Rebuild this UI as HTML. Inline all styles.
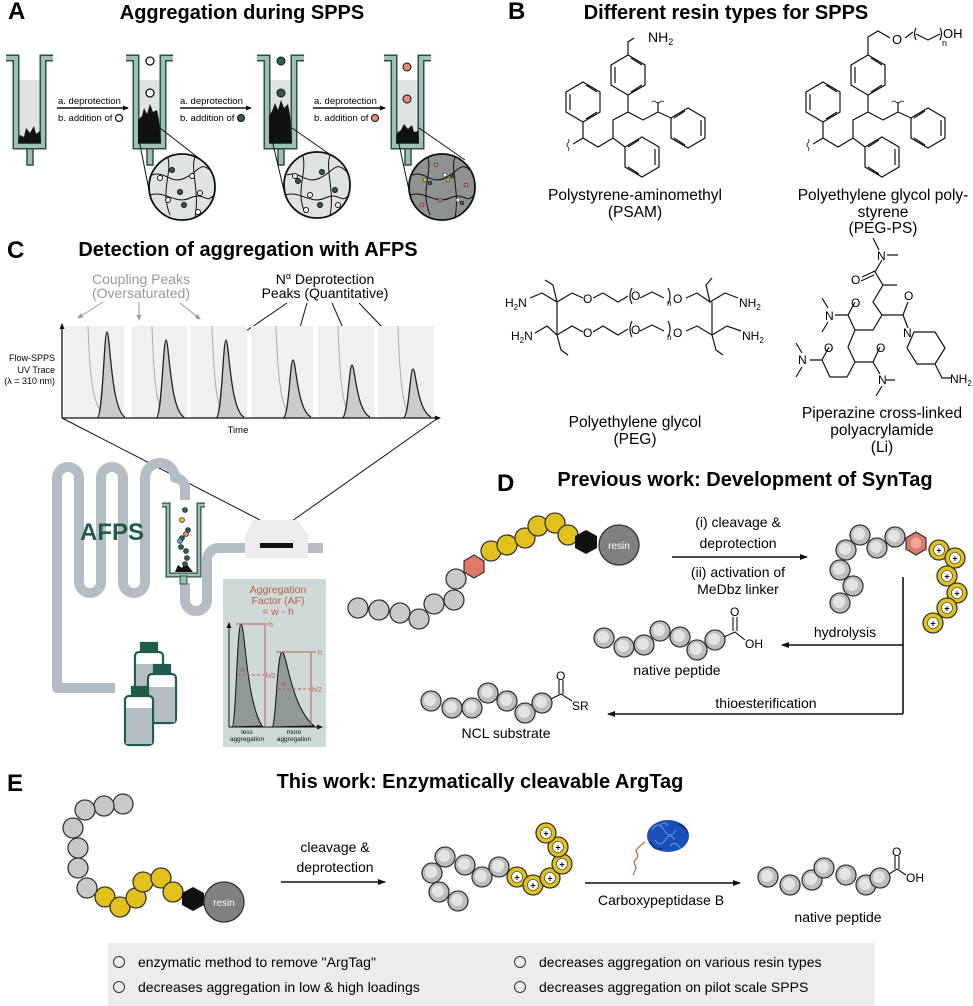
<!DOCTYPE html>
<html><head><meta charset="utf-8"><style>
html,body{margin:0;padding:0;background:#fff}
svg{display:block}
text{font-family:"Liberation Sans",Arial,sans-serif}
.t{font-size:20px;font-weight:bold}
.L{font-size:24px;font-weight:bold}
.s{font-size:14px}
.m{font-size:15.5px}
.tw{stroke:#2e4f48;stroke-width:7;fill:none}
.ti{stroke:#9cc0b6;stroke-width:4;fill:none}
.g{fill:#c9c9c9;stroke:#333;stroke-width:1.3}
.y{fill:#e2c11d;stroke:#333;stroke-width:1.3}
.b{fill:none;stroke:#111;stroke-width:1.4}
.tube{fill:none;stroke:#b4bcc4;stroke-width:10;stroke-linejoin:round}
</style></head><body>
<svg width="973" height="1006" viewBox="0 0 973 1006" xmlns="http://www.w3.org/2000/svg">
<defs>
<marker id="ah" markerWidth="8" markerHeight="8" refX="7" refY="4" orient="auto" markerUnits="userSpaceOnUse"><path d="M0,1 L8,4 L0,7 z" fill="#111"/></marker>
<marker id="ahs" markerWidth="6" markerHeight="6" refX="5" refY="3" orient="auto" markerUnits="userSpaceOnUse"><path d="M0,0.5 L6,3 L0,5.5 z" fill="#111"/></marker>
<marker id="ahg" markerWidth="6" markerHeight="6" refX="5" refY="3" orient="auto" markerUnits="userSpaceOnUse"><path d="M0,0.5 L6,3 L0,5.5 z" fill="#999"/></marker>
<g id="tube">
<rect x="12" y="80" width="23" height="64" fill="#dfe3e3"/>
<rect x="21" y="147" width="6" height="18" fill="#9cc0b6" stroke="#2e4f48" stroke-width="1.5"/>
<path class="tw" d="M0,58 H10 V146 H37 V58 H47"/>
<path class="ti" d="M0,58 H10 V146 H37 V58 H47"/>
</g>
<g id="pg"><circle r="10" fill="#bdbdbd" stroke="#333" stroke-width="1.3"/><circle cx="-1" cy="-1" r="6" fill="#e4e4e4"/></g>
<g id="yp"><circle r="10" fill="#e2c11d" stroke="#333" stroke-width="1.3"/><circle r="5.5" fill="#fff" stroke="#333" stroke-width="0.6"/><text y="3.5" text-anchor="middle" font-size="9" font-weight="bold">+</text></g>
</defs>

<!-- ============ PANEL A ============ -->
<text x="8" y="19" class="L">A</text>
<text x="242" y="19" class="t" text-anchor="middle">Aggregation during SPPS</text>
<use href="#tube" x="6" y="0"/>
<use href="#tube" x="126" y="0"/>
<use href="#tube" x="257" y="0"/>
<use href="#tube" x="384" y="0"/>
<path d="M18,143 L20,135 L24,137 L26,128 L30,133 L34,126 L36,134 L40,131 L41,143 z" fill="#111"/>
<path d="M138,143 L138,120 L142,116 L144,108 L147,114 L150,104 L153,112 L157,110 L159,120 L161,143 z" fill="#111"/>
<path d="M269,143 L269,116 L272,111 L275,103 L278,110 L281,100 L284,108 L288,104 L290,115 L292,143 z" fill="#111"/>
<path d="M396,143 L397,133 L401,130 L404,124 L408,129 L412,125 L414,132 L418,131 L419,143 z" fill="#111"/>
<circle cx="150" cy="61" r="4" fill="#fff" stroke="#111" stroke-width="1.3"/>
<circle cx="150" cy="93" r="4" fill="#fff" stroke="#111" stroke-width="1.3"/>
<circle cx="281" cy="61" r="4" fill="#2e5e52" stroke="#111" stroke-width="1"/>
<circle cx="281" cy="93" r="4" fill="#2e5e52" stroke="#111" stroke-width="1"/>
<circle cx="407" cy="67" r="4" fill="#e98a78" stroke="#111" stroke-width="1"/>
<circle cx="407" cy="99" r="4" fill="#e98a78" stroke="#111" stroke-width="1"/>
<g class="s" font-size="9.5">
<text x="58" y="104" font-size="9.5">a. deprotection</text>
<text x="58" y="121" font-size="9.5">b. addition of</text>
<circle cx="119" cy="118" r="3.5" fill="#fff" stroke="#111" stroke-width="1.3"/>
<line x1="57" y1="108" x2="128" y2="108" stroke="#111" stroke-width="1.5" marker-end="url(#ahs)"/>
<text x="180" y="104" font-size="9.5">a. deprotection</text>
<text x="180" y="121" font-size="9.5">b. addition of</text>
<circle cx="241" cy="118" r="3.5" fill="#2e5e52" stroke="#111"/>
<line x1="180" y1="108" x2="251" y2="108" stroke="#111" stroke-width="1.5" marker-end="url(#ahs)"/>
<text x="314" y="104" font-size="9.5">a. deprotection</text>
<text x="314" y="121" font-size="9.5">b. addition of</text>
<circle cx="375" cy="118" r="3.5" fill="#e98a78" stroke="#111"/>
<line x1="313" y1="108" x2="385" y2="108" stroke="#111" stroke-width="1.5" marker-end="url(#ahs)"/>
</g>
<g stroke="#111" stroke-width="1">
<line x1="139" y1="140" x2="150" y2="195"/><line x1="160" y1="128" x2="205" y2="163"/>
<circle cx="182" cy="187" r="33" fill="#dfe3e3" stroke-width="1.8"/>
<path d="M152,175 C165,170 170,185 185,178 S200,160 212,172 M150,195 C165,190 175,205 190,198 S205,205 214,195 M168,158 C172,175 160,190 170,215 M195,157 C190,170 200,190 195,218" fill="none"/>
<circle cx="160" cy="178" r="2.5" fill="#fff"/><circle cx="172" cy="170" r="2.5" fill="#2e5e52"/><circle cx="192" cy="176" r="2.5" fill="#fff"/><circle cx="180" cy="192" r="2.5" fill="#2e5e52"/><circle cx="200" cy="193" r="2.5" fill="#fff"/><circle cx="184" cy="205" r="2.5" fill="#2e5e52"/><circle cx="168" cy="200" r="2.5" fill="#fff"/><circle cx="198" cy="212" r="2.5" fill="#fff"/>
<line x1="272" y1="140" x2="285" y2="195"/><line x1="292" y1="128" x2="338" y2="160"/>
<circle cx="317" cy="185" r="33" fill="#dfe3e3" stroke-width="1.8"/>
<path d="M287,175 C300,170 305,185 320,178 S335,160 347,172 M285,195 C300,190 310,205 325,198 S340,205 349,195 M303,156 C307,175 295,190 305,213 M330,155 C325,170 335,190 330,216" fill="none"/>
<circle cx="295" cy="176" r="2.5" fill="#fff"/><circle cx="298" cy="181" r="2.5" fill="#2e5e52"/><circle cx="322" cy="172" r="2.5" fill="#2e5e52"/><circle cx="310" cy="195" r="2.5" fill="#fff"/><circle cx="335" cy="190" r="2.5" fill="#2e5e52"/><circle cx="320" cy="205" r="2.5" fill="#2e5e52"/><circle cx="306" cy="210" r="2.5" fill="#fff"/><circle cx="338" cy="205" r="2.5" fill="#fff"/>
<line x1="397" y1="135" x2="410" y2="195"/><line x1="419" y1="128" x2="465" y2="160"/>
<circle cx="442" cy="187" r="33" fill="#8e9292" stroke-width="1.8"/>
<path d="M412,175 C425,170 430,185 445,178 S460,160 472,172 M410,195 C425,190 435,205 450,198 S465,205 474,195 M428,158 C432,175 420,190 430,215 M455,157 C450,170 460,190 455,218" fill="none"/>
<g stroke-width="0.5"><circle cx="425" cy="180" r="2" fill="#e2c11d"/><circle cx="430" cy="183" r="2" fill="#2e5e52"/><circle cx="445" cy="175" r="2" fill="#fff"/><circle cx="448" cy="180" r="2" fill="#e2c11d"/><circle cx="452" cy="176" r="2" fill="#2e5e52"/><circle cx="440" cy="200" r="2" fill="#e98a78"/><circle cx="458" cy="200" r="2" fill="#fff"/><circle cx="462" cy="203" r="2" fill="#2e5e52"/><circle cx="422" cy="205" r="2" fill="#e98a78"/><circle cx="466" cy="185" r="2" fill="#e98a78"/><circle cx="436" cy="165" r="2" fill="#e98a78"/></g>
</g>

<!-- ============ PANEL B ============ -->
<text x="508" y="19" class="L">B</text>
<text x="726" y="19" class="t" text-anchor="middle">Different resin types for SPPS</text>
<g id="ps" transform="translate(480,20)" stroke="#111" stroke-width="1.2" fill="none">
<polygon points="148,35 165,45 165,65 148,75 131,65 131,45"/>
<path d="M135,47 V63 M151,38 L162,45 M151,72 L162,65"/>
<polygon points="103,62 120,72 120,92 103,102 86,92 86,72"/>
<path d="M90,74 V90 M106,65 L117,72 M106,99 L117,92"/>
<polygon points="162,117 179,127 179,147 162,157 145,147 145,127"/>
<path d="M175,129 V145 M159,120 L148,127 M159,154 L148,147"/>
<polygon points="208,88 225,98 225,118 208,128 191,118 191,98"/>
<path d="M221,100 V116 M205,91 L194,98 M205,125 L194,118"/>
<path d="M148,75 V92 L133,100 V118 L118,127 L103,118 V102 M133,118 L145,127 M148,92 L163,100 L178,92 L191,98 M178,92 V82"/>
<path d="M103,118 L93,124" />
<path d="M172,82 q2,-2 4,0 t4,0 t4,0" stroke-width="0.8"/>
<path d="M88,119 q2,2 0,4 t0,4 t0,4" stroke-width="0.8"/>
</g>
<g transform="translate(480,20)" stroke="#111" stroke-width="1.2" fill="none">
<path d="M148,35 V22 L154,18"/>
</g>
<text x="648" y="42" class="s" font-size="13">NH<tspan font-size="9" dy="3">2</tspan></text>
<use href="#ps" x="240" y="0"/>
<g stroke="#111" stroke-width="1.2" fill="none">
<path d="M868,55 V37 L878,31 L890,38"/>
<path d="M905,38 L913,32 M916,28 q-3,5 0,12 M916,34 L928,40 L940,34 M940,28 q3,5 0,12"/>
</g>
<text x="892" y="44" font-size="13">O</text>
<text x="942" y="46" font-size="9">n</text>
<text x="943" y="38" font-size="13">OH</text>
<text x="635" y="200" class="m" text-anchor="middle">Polystyrene-aminomethyl</text>
<text x="635" y="217" class="m" text-anchor="middle">(PSAM)</text>
<text x="883" y="200" class="m" text-anchor="middle">Polyethylene glycol poly-</text>
<text x="883" y="217" class="m" text-anchor="middle">styrene</text>
<text x="883" y="233" class="m" text-anchor="middle">(PEG-PS)</text>
<g stroke="#111" stroke-width="1.2" fill="none">
<path d="M530,298 L542,293 L557,302 L572,293 L583,298 M593,298 L603,293 L618,302 L628,296 M632,288 q-4,8 0,16 M640,298 L652,292 L664,298 M668,288 q4,8 0,16 M686,298 L697,293 L710,302 L725,293 L738,298"/>
<path d="M535,333 L547,326 L557,335 L572,326 L583,332 M593,332 L603,326 L618,335 L628,329 M632,321 q-4,8 0,16 M640,331 L652,325 L664,331 M668,321 q4,8 0,16 M686,331 L697,326 L712,335 L727,326 L741,331"/>
<path d="M557,302 V335 M557,302 L553,285 L545,280 M712,335 V302 M710,302 L706,285 L712,278 M557,335 L561,350 L568,355 M712,335 L716,350 L723,355"/>
</g>
<g font-size="12">
<text x="505" y="307">H<tspan font-size="8" dy="3">2</tspan><tspan dy="-3">N</tspan></text>
<text x="511" y="340">H<tspan font-size="8" dy="3">2</tspan><tspan dy="-3">N</tspan></text>
<text x="583" y="303">O</text><text x="631" y="300">O</text><text x="673" y="303">O</text><text x="667" y="306" font-size="8">n</text>
<text x="583" y="337">O</text><text x="631" y="334">O</text><text x="673" y="337">O</text><text x="667" y="340" font-size="8">n</text>
<text x="739" y="307">NH<tspan font-size="8" dy="3">2</tspan></text>
<text x="742" y="340">NH<tspan font-size="8" dy="3">2</tspan></text>
</g>
<text x="635" y="427" class="m" text-anchor="middle">Polyethylene glycol</text>
<text x="635" y="444" class="m" text-anchor="middle">(PEG)</text>
<g stroke="#111" stroke-width="1.2" fill="none">
<path d="M873,238 L879,250 M887,255 L898,255 M882,260 L875,272 L883,285 L873,302 L882,315 L903,315 L908,302 M862,277 L875,271 M861,281 L874,275 M883,285 L897,285"/>
<path d="M882,315 L873,330 L855,330 L848,315 L855,302 M848,315 L835,315 M828,322 L822,332 M828,308 L822,298 M903,315 L908,328"/>
<path d="M914,332 L935,332 L945,348 L935,364 L917,364 L907,348 Z M935,364 L942,378 L952,378" />
<path d="M855,330 L848,347 L855,362 L873,362 L880,347 M855,362 L847,377 L830,377 L822,360 L829,347 M822,360 L810,360 M802,367 L796,377 M802,353 L796,343 M873,362 L880,374 M886,380 L895,380 M882,386 L876,396"/>
</g>
<g font-size="12">
<text x="877" y="260">N</text><text x="851" y="284">O</text>
<text x="904" y="300">O</text><text x="903" y="337">N</text>
<text x="825" y="320">N</text><text x="851" y="307">O</text>
<text x="798" y="364">N</text><text x="824" y="352">O</text>
<text x="876" y="352">O</text><text x="878" y="384">N</text>
<text x="950" y="383">NH<tspan font-size="8" dy="3">2</tspan></text>
</g>
<text x="882" y="418" class="m" text-anchor="middle">Piperazine cross-linked</text>
<text x="882" y="435" class="m" text-anchor="middle">polyacrylamide</text>
<text x="882" y="452" class="m" text-anchor="middle">(Li)</text>

<!-- ============ PANEL C ============ -->
<text x="7" y="258" class="L">C</text>
<text x="248" y="256" class="t" text-anchor="middle">Detection of aggregation with AFPS</text>
<text x="141" y="284" class="s" text-anchor="middle" fill="#999">Coupling Peaks</text>
<text x="141" y="298" class="s" text-anchor="middle" fill="#999">(Oversaturated)</text>
<text x="325" y="284" class="s" text-anchor="middle">N<tspan font-size="9" dy="-5">α</tspan><tspan dy="5"> Deprotection</tspan></text>
<text x="325" y="298" class="s" text-anchor="middle">Peaks (Quantitative)</text>
<g stroke="#999" stroke-width="1">
<line x1="103" y1="302" x2="78" y2="318" marker-end="url(#ahg)"/>
<line x1="139" y1="302" x2="139" y2="320" marker-end="url(#ahg)"/>
<line x1="180" y1="303" x2="200" y2="319" marker-end="url(#ahg)"/>
</g>
<g stroke="#111" stroke-width="1">
<line x1="287" y1="303" x2="233" y2="340" marker-end="url(#ahs)"/>
<line x1="307" y1="303" x2="293" y2="352" marker-end="url(#ahs)"/>
<line x1="332" y1="303" x2="354" y2="353" marker-end="url(#ahs)"/>
<line x1="359" y1="303" x2="412" y2="358" marker-end="url(#ahs)"/>
</g>
<g>
<rect x="64" y="326" width="60" height="92" fill="#f0f0f0"/>
<rect x="131" y="326" width="56" height="92" fill="#f0f0f0"/>
<rect x="191" y="326" width="56" height="92" fill="#f0f0f0"/>
<rect x="251" y="326" width="62" height="92" fill="#f0f0f0"/>
<rect x="318" y="326" width="56" height="92" fill="#f0f0f0"/>
<rect x="378" y="326" width="56" height="92" fill="#f0f0f0"/>
<g fill="none" stroke="#aaa" stroke-width="1">
<path d="M88,326 C90,390 95,408 105,416"/><path d="M152,326 C154,390 158,408 164,416"/><path d="M212,326 C214,390 218,408 224,416"/><path d="M276,326 C278,390 283,408 290,416"/><path d="M338,326 C340,390 344,408 350,416"/><path d="M398,326 C400,390 404,408 410,416"/>
</g>
<g fill="#ccc" stroke="#222" stroke-width="1.3">
<path d="M97,418 C103,418 104,332 107,332 C110,332 111,410 125,417"/>
<path d="M156,418 C162,418 163,340 166,340 C169,340 170,410 184,417"/>
<path d="M216,418 C222,418 223,340 226,340 C229,340 230,410 244,417"/>
<path d="M283,418 C289,418 290,360 293,360 C296,360 297,410 311,417"/>
<path d="M342,418 C348,418 349,365 352,365 C355,365 356,410 370,417"/>
<path d="M403,418 C409,418 410,369 413,369 C416,369 417,410 431,417"/>
</g>
</g>
<line x1="62" y1="418" x2="62" y2="324" stroke="#111" stroke-width="1.3" marker-end="url(#ahs)"/>
<line x1="62" y1="418" x2="440" y2="418" stroke="#111" stroke-width="1.3" marker-end="url(#ahs)"/>
<text x="238" y="433" font-size="9.5" text-anchor="middle">Time</text>
<g font-size="9" text-anchor="end"><text x="55" y="361">Flow-SPPS</text><text x="55" y="373">UV Trace</text><text x="55" y="384">(λ = 310 nm)</text></g>
<line x1="62" y1="418" x2="260" y2="520" stroke="#111" stroke-width="1"/>
<line x1="438" y1="418" x2="292" y2="521" stroke="#111" stroke-width="1"/>
<path class="tube" d="M115,688 H57 V478 A11,11 0 0 1 79,478 V582 A11,11 0 0 0 101,582 V478 A11,11 0 0 1 123,478 V582 A11,11 0 0 0 145,582 V478 A15,15 0 0 1 175,478 H175 A10,10 0 0 1 185,488 V500"/>
<path class="tube" d="M185,583 V600 A11,11 0 0 0 207,600 V560 A12,12 0 0 1 219,548 H250 M300,548 H323"/>
<text x="112" y="540" font-size="24" font-weight="bold" fill="#1f5c4b" text-anchor="middle">AFPS</text>
<rect x="167" y="510" width="32" height="64" fill="#fff"/>
<path d="M162,505 H168 V575 H199 V505 H205" fill="none" stroke="#2e4f48" stroke-width="5"/>
<path d="M162,505 H168 V575 H199 V505 H205" fill="none" stroke="#9cc0b6" stroke-width="2.5"/>
<rect x="180" y="576" width="7" height="8" fill="#9cc0b6" stroke="#2e4f48" stroke-width="1"/>
<path d="M175,572 L178,565 L182,568 L185,562 L189,567 L193,572 z" fill="#111"/>
<g stroke="#111" stroke-width="0.6"><circle cx="185" cy="510" r="2.5" fill="#2e5e52"/><circle cx="182" cy="520" r="2.5" fill="#e2c11d"/><circle cx="188" cy="530" r="2.5" fill="#2e5e52"/><circle cx="186" cy="534" r="2.5" fill="#e98a78"/><circle cx="182" cy="538" r="2.5" fill="#2e5e52"/><circle cx="180" cy="541" r="2.5" fill="#5aa0d8"/><circle cx="181" cy="547" r="2.5" fill="#2e5e52"/><circle cx="186" cy="551" r="2.5" fill="#2e5e52"/><circle cx="187" cy="558" r="2.5" fill="#2e5e52"/><circle cx="185" cy="564" r="2.5" fill="#2e5e52"/></g>
<polygon points="253,520 298,520 308,535 308,558 245,558 245,535" fill="#ececec"/>
<rect x="260" y="543" width="33" height="5" fill="#111"/>
<g stroke="#1f5c4b" stroke-width="2.2">
<rect x="141" y="643" width="16" height="10" fill="#1f5c4b"/>
<rect x="135" y="652" width="28" height="52" rx="4" fill="#fff"/>
<rect x="136" y="664" width="26" height="39" fill="#b4bcc4" stroke="none"/>
<rect x="154" y="665" width="16" height="10" fill="#1f5c4b"/>
<rect x="148" y="674" width="28" height="49" rx="4" fill="#fff"/>
<rect x="149" y="687" width="26" height="35" fill="#b4bcc4" stroke="none"/>
<rect x="132" y="687" width="16" height="10" fill="#1f5c4b"/>
<rect x="125" y="696" width="28" height="49" rx="4" fill="#fff"/>
<rect x="126" y="708" width="26" height="36" fill="#b4bcc4" stroke="none"/>
</g>
<rect x="223" y="579" width="103" height="168" fill="#cfdad6"/>
<g fill="#b5604e" font-size="10.5" text-anchor="middle"><text x="278" y="593">Aggregation</text><text x="278" y="604">Factor  (AF)</text><text x="278" y="615">= w - h</text></g>
<path d="M232,727 C236,727 237,624 241,624 C245,624 246,700 262,726 Z" fill="#8f9996" stroke="#111" stroke-width="1"/>
<path d="M272,727 C276,727 277,652 282,652 C287,652 290,705 314,726 Z" fill="#8f9996" stroke="#111" stroke-width="1"/>
<line x1="229" y1="727" x2="322" y2="727" stroke="#111" stroke-width="1" marker-end="url(#ahs)"/>
<line x1="229" y1="727" x2="229" y2="623" stroke="#111" stroke-width="1" marker-end="url(#ahs)"/>
<g stroke="#b5604e" stroke-width="1" fill="none">
<line x1="236" y1="624" x2="268" y2="624"/><line x1="265" y1="625" x2="265" y2="726"/>
<line x1="276" y1="652" x2="316" y2="652"/><line x1="311" y1="653" x2="311" y2="726"/>
<line x1="237" y1="675" x2="264" y2="675" stroke-dasharray="3,2"/>
<line x1="278" y1="689" x2="310" y2="689" stroke-dasharray="3,2"/>
</g>
<g fill="#b5604e" font-size="7"><text x="269" y="627">h</text><text x="318" y="655">h</text><text x="240" y="672">w</text><text x="281" y="686">w</text><text x="266" y="678">h/2</text><text x="312" y="692">h/2</text></g>
<g font-size="6.5" text-anchor="middle" fill="#111"><text x="247" y="734">less</text><text x="247" y="741">aggregation</text><text x="294" y="734">more</text><text x="294" y="741">aggregation</text></g>

<!-- ============ PANEL D ============ -->
<text x="497" y="491" class="L">D</text>
<text x="745" y="486" class="t" text-anchor="middle">Previous work: Development of SynTag</text>
<g>
<circle class="g" cx="358" cy="608" r="10"/><circle class="g" cx="379" cy="610" r="10"/><circle class="g" cx="400" cy="613" r="10"/><circle class="g" cx="419" cy="619" r="10"/><circle class="g" cx="434" cy="604" r="10"/><circle class="g" cx="454" cy="600" r="10"/><circle class="g" cx="456" cy="579" r="10"/>
<polygon points="474,555 484,561 484,572 474,578 464,572 464,561" fill="#e07a68" stroke="#333" stroke-width="1.2"/>
<circle class="y" cx="491" cy="551" r="10"/><circle class="y" cx="507" cy="545" r="10"/><circle class="y" cx="525" cy="538" r="10"/><circle class="y" cx="538" cy="526" r="10"/><circle class="y" cx="555" cy="523" r="10"/><circle class="y" cx="568" cy="535" r="10"/>
<polygon points="586,530 597,536 597,548 586,554 575,548 575,536" fill="#111"/>
<circle cx="619" cy="545" r="20" fill="#808080" stroke="#333" stroke-width="1.3"/>
<text x="619" y="549" font-size="10" fill="#fff" text-anchor="middle">resin</text>
</g>
<line x1="672" y1="557" x2="807" y2="557" stroke="#111" stroke-width="1.6" marker-end="url(#ah)"/>
<g class="s" text-anchor="middle"><text x="738" y="527">(i) cleavage &amp;</text><text x="738" y="548">deprotection</text><text x="738" y="577">(ii) activation of</text><text x="738" y="594">MeDbz linker</text></g>
<use href="#pg" x="840" y="603"/><use href="#pg" x="853" y="586"/><use href="#pg" x="840" y="570"/><use href="#pg" x="846" y="550"/><use href="#pg" x="860" y="535"/><use href="#pg" x="877" y="548"/><use href="#pg" x="895" y="537"/>
<polygon points="916,532 926,538 926,549 916,555 906,549 906,538" fill="#e07a68" stroke="#333" stroke-width="1.2"/>
<polygon points="916,537 921,540 921,546 916,549 911,546 911,540" fill="#f0a898"/>
<use href="#yp" x="939" y="550"/><use href="#yp" x="955" y="558"/><use href="#yp" x="947" y="576"/><use href="#yp" x="957" y="593"/><use href="#yp" x="947" y="608"/><use href="#yp" x="933" y="623"/>
<path d="M903,577 V714" stroke="#111" stroke-width="1.6" fill="none"/>
<line x1="903" y1="645" x2="782" y2="645" stroke="#111" stroke-width="1.6" marker-end="url(#ah)"/>
<line x1="903" y1="714" x2="608" y2="714" stroke="#111" stroke-width="1.6" marker-end="url(#ah)"/>
<text x="845" y="637" class="s" text-anchor="middle">hydrolysis</text>
<text x="766" y="708" class="s" text-anchor="middle">thioesterification</text>
<use href="#pg" x="604" y="638"/><use href="#pg" x="624" y="647"/><use href="#pg" x="644" y="645"/><use href="#pg" x="660" y="631"/><use href="#pg" x="680" y="637"/><use href="#pg" x="697" y="650"/><use href="#pg" x="715" y="640"/>
<path d="M724,637 L735,632 L745,640 M733,631 V617 M737,631 V617" stroke="#111" stroke-width="1.1" fill="none"/>
<text x="730" y="616" font-size="12">O</text><text x="745" y="648" font-size="12">OH</text>
<text x="677" y="675" class="s" text-anchor="middle">native peptide</text>
<use href="#pg" x="431" y="701"/><use href="#pg" x="452" y="708"/><use href="#pg" x="472" y="708"/><use href="#pg" x="488" y="693"/><use href="#pg" x="507" y="701"/><use href="#pg" x="525" y="713"/><use href="#pg" x="542" y="703"/>
<path d="M551,699 L561,694 L572,701 M559,694 V680 M563,694 V680" stroke="#111" stroke-width="1.1" fill="none"/>
<text x="556" y="680" font-size="12">O</text><text x="572" y="710" font-size="12">SR</text>
<text x="506" y="738" class="s" text-anchor="middle">NCL substrate</text>

<!-- ============ PANEL E ============ -->
<text x="7" y="791" class="L">E</text>
<text x="480" y="788" class="t" text-anchor="middle">This work: Enzymatically cleavable ArgTag</text>
<circle class="g" cx="123" cy="804" r="10"/><circle class="g" cx="104" cy="806" r="10"/><circle class="g" cx="85" cy="810" r="10"/><circle class="g" cx="73" cy="828" r="10"/><circle class="g" cx="78" cy="848" r="10"/><circle class="g" cx="78" cy="868" r="10"/><circle class="g" cx="87" cy="888" r="10"/>
<circle class="y" cx="105" cy="897" r="10"/><circle class="y" cx="120" cy="907" r="10"/><circle class="y" cx="136" cy="898" r="10"/><circle class="y" cx="143" cy="882" r="10"/><circle class="y" cx="161" cy="878" r="10"/><circle class="y" cx="173" cy="892" r="10"/>
<polygon points="193,887 204,893 204,905 193,911 182,905 182,893" fill="#111"/>
<circle cx="224" cy="902" r="20" fill="#808080" stroke="#333" stroke-width="1.3"/>
<text x="224" y="906" font-size="10" fill="#fff" text-anchor="middle">resin</text>
<line x1="281" y1="882" x2="385" y2="882" stroke="#111" stroke-width="1.6" marker-end="url(#ah)"/>
<text x="335" y="852" class="s" text-anchor="middle">cleavage &amp;</text>
<text x="335" y="872" class="s" text-anchor="middle">deprotection</text>
<use href="#pg" x="458" y="901"/><use href="#pg" x="439" y="892"/><use href="#pg" x="432" y="873"/><use href="#pg" x="445" y="857"/><use href="#pg" x="465" y="865"/><use href="#pg" x="482" y="877"/><use href="#pg" x="499" y="867"/>
<use href="#yp" x="517" y="877"/><use href="#yp" x="533" y="885"/><use href="#yp" x="550" y="878"/><use href="#yp" x="562" y="864"/><use href="#yp" x="558" y="847"/><use href="#yp" x="546" y="833"/>
<g>
<path d="M633,875 L636,868 L634,862 L638,856 L636,850 L641,845 L645,842" stroke="#c0704a" stroke-width="1.3" fill="none"/>
<ellipse cx="668" cy="836" rx="21" ry="16" fill="#1a4fb8"/>
<path d="M652,830 q6,-10 12,0 t12,0 M655,840 q5,8 10,0 t10,0 M660,826 q4,-6 8,0 M670,846 q5,-6 10,2" stroke="#6b9ae6" stroke-width="1" fill="none"/>
<path d="M650,842 q5,10 12,6 M678,824 q8,2 10,10" stroke="#0c2f7a" stroke-width="1.5" fill="none"/>
</g>
<line x1="585" y1="883" x2="740" y2="883" stroke="#111" stroke-width="1.6" marker-end="url(#ah)"/>
<text x="661" y="905" class="s" text-anchor="middle">Carboxypeptidase B</text>
<use href="#pg" x="768" y="877"/><use href="#pg" x="790" y="885"/><use href="#pg" x="812" y="880"/><use href="#pg" x="824" y="868"/><use href="#pg" x="846" y="875"/><use href="#pg" x="866" y="885"/><use href="#pg" x="880" y="878"/>
<path d="M889,874 L897,869 L906,875 M895,869 V856 M899,869 V856" stroke="#111" stroke-width="1.1" fill="none"/>
<text x="892" y="856" font-size="12">O</text><text x="906" y="882" font-size="12">OH</text>
<text x="838" y="922" class="s" text-anchor="middle">native peptide</text>
<rect x="108" y="943" width="767" height="63" fill="#ececec"/>
<g fill="none" stroke="#333" stroke-width="1"><circle cx="119" cy="962" r="5.5"/><circle cx="119" cy="987" r="5.5"/><circle cx="520" cy="962" r="5.5"/><circle cx="520" cy="987" r="5.5"/></g>
<g class="s" font-size="14.5"><text x="138" y="967">enzymatic method to remove "ArgTag"</text><text x="138" y="992">decreases aggregation in low &amp; high loadings</text><text x="539" y="967">decreases aggregation  on various resin types</text><text x="539" y="992">decreases aggregation on pilot scale SPPS</text></g>
</svg>
</body></html>
